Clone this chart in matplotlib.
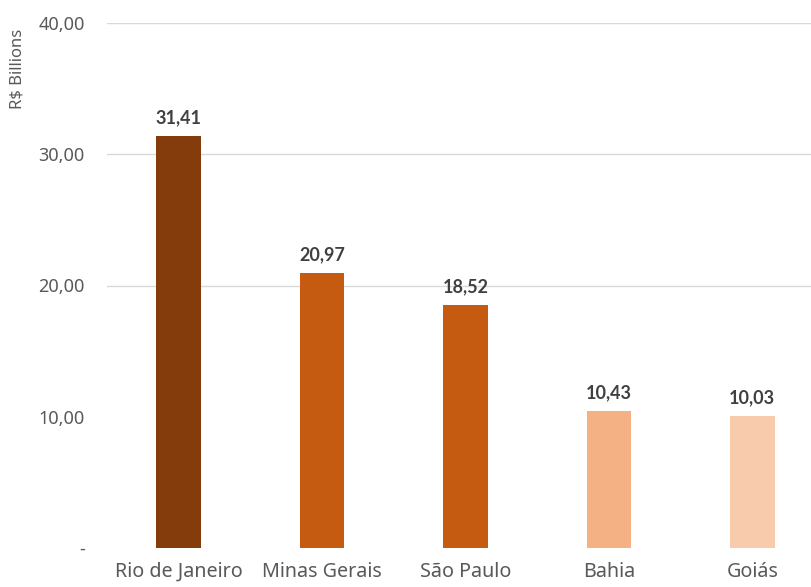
import matplotlib
matplotlib.use('Agg')
import matplotlib.pyplot as plt

# Values per state (R$ billions)
states = ["Rio de Janeiro", "Minas Gerais", "São Paulo", "Bahia", "Goiás"]
values = [31.41, 20.97, 18.52, 10.43, 10.03]
colors = ["#843C0C", "#C55A11", "#C55A11", "#F4B183", "#F8CBAD"]
yticks = [0, 10, 20, 30, 40]
ytick_labels = ["-", "10,00", "20,00", "30,00", "40,00"]

plt.rcParams['font.family'] = ['Noto Sans', 'DejaVu Sans']

fig = plt.figure(figsize=(8.11, 5.87), dpi=100)
ax = fig.add_axes([107 / 811, 1 - 548 / 587, 717 / 811, 525 / 587])

x = range(len(states))
bars = ax.bar(x, values, width=0.31, color=colors, zorder=3)

for b, v in zip(bars, values):
    ax.annotate(f"{v:.2f}".replace(".", ","),
                (b.get_x() + b.get_width() / 2, v),
                xytext=(0, 7), textcoords="offset points",
                ha="center", va="bottom", fontsize=13, fontweight="bold",
                family=["Lato", "DejaVu Sans"], color="#404040")

ax.set_xlim(-0.5, len(states) - 0.5)
ax.set_ylim(0, 40)
ax.set_yticks(yticks)
ax.set_yticklabels(ytick_labels)
ax.set_xticks(list(x))
ax.set_xticklabels(states)
ax.tick_params(axis="both", length=0, colors="#595959", labelsize=13)
ax.tick_params(axis="x", labelsize=14.2, pad=10)
ax.tick_params(axis="y", pad=16)

ax.grid(axis="y", color="#D9D9D9", linewidth=1, zorder=0)
gl = ax.get_ygridlines()
gl[0].set_visible(False)
gl[1].set_visible(False)

for s in ax.spines.values():
    s.set_visible(False)

ax.set_ylabel("R$ Billions", fontsize=12, color="#595959")
ax.yaxis.set_label_coords(-0.113, 0.912)

fig.savefig("out.png", dpi=100)
plt.close(fig)
